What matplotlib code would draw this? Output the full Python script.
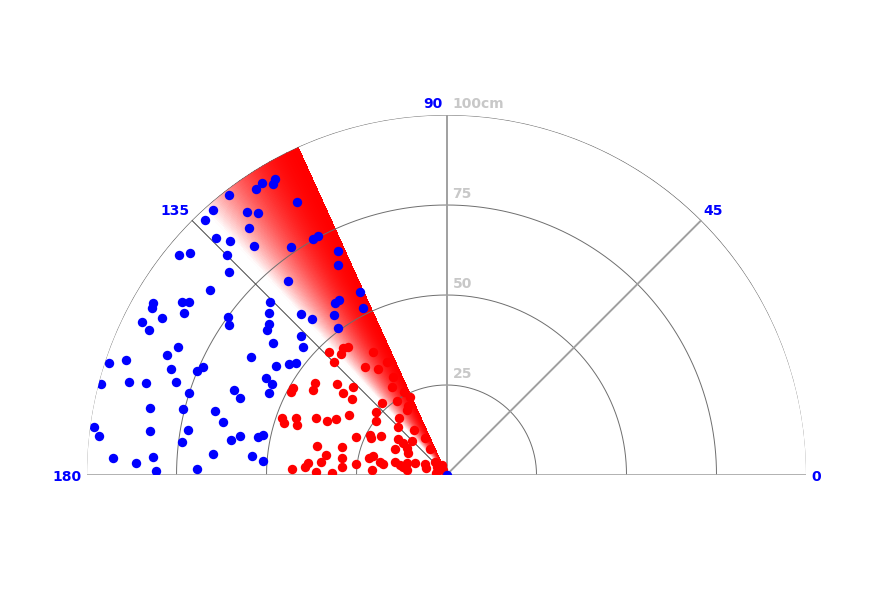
import numpy as np
import matplotlib
matplotlib.use("Agg")
import matplotlib.pyplot as plt
from matplotlib.colors import LinearSegmentedColormap

# radar sweep state
sweep_angle = 114.4      # current servo angle, degrees
trail_span = 18          # degrees of fading trail behind the sweep
max_range = 100          # cm

ring_values = [25, 50, 75, 100]
ring_labels = ["25", "50", "75", "100cm"]
angle_ticks = [0, 45, 90, 135, 180]

# echoes, position in cm relative to the sensor (x to the right, y forward)
far_x = [-60.4, -64.9, -67.1, -52.9, -51.3, -48.2, -47.6, -41.5, -55.4, -52.4,
         -54.9, -64.0, -60.1, -53.5, -43.2, -37.1, -35.7, -74.3, -71.3, -61.0,
         -60.4, -65.7, -44.0, -49.0, -81.5, -81.8, -73.5, -71.5, -30.1, -30.1,
         -24.0, -31.0, -29.9, -23.2, -31.3, -30.1, -72.9, -79.0, -84.6, -82.6,
         -60.7, -60.4, -49.3, -49.3, -49.9, -40.4, -37.4, -48.2, -40.4, -39.9,
         -74.6, -77.6, -93.8, -89.0, -76.5, -54.3, -69.3, -67.6, -47.4, -43.8,
         -41.8, -96.0, -88.2, -83.5, -75.1, -50.1, -48.5, -49.3, -71.5, -59.0,
         -57.4, -82.4, -73.2, -64.3, -62.1, -97.9, -96.5, -82.4, -71.8, -73.5,
         -59.9, -57.4, -52.4, -51.0, -92.6, -86.3, -81.5, -80.7, -64.9, -69.3,
         -54.0, -51.0]
far_y = [77.8, 73.6, 70.8, 79.4, 81.1, 80.8, 82.2, 75.8, 73.1, 72.8,
         68.6, 65.8, 65.0, 63.6, 63.3, 65.6, 66.4, 61.1, 61.7, 61.1,
         56.4, 51.4, 53.9, 48.1, 47.8, 46.4, 48.1, 48.1, 62.2, 58.3,
         50.8, 47.8, 48.6, 46.4, 44.4, 40.8, 45.0, 43.6, 42.5, 40.3,
         43.9, 41.7, 45.0, 41.9, 40.3, 44.7, 43.3, 36.7, 38.6, 35.6,
         35.6, 33.3, 31.1, 31.9, 29.4, 32.8, 28.9, 30.0, 30.3, 30.8,
         31.1, 25.3, 25.8, 25.6, 25.8, 26.9, 25.3, 22.8, 22.8, 23.6,
         21.4, 18.6, 18.3, 17.8, 14.7, 13.3, 10.8, 12.2, 12.5, 9.2,
         9.7, 10.8, 10.6, 11.1, 4.7, 3.3, 5.0, 1.1, 5.8, 1.7,
         5.3, 3.9]

near_x = [-20.4, -22.6, -19.0, -16.5, -14.9, -15.1, -13.8, -11.0, -10.7, -17.9,
          -19.6, -19.6, -13.2, -13.5, -9.0, -21.3, -21.0, -18.2, -13.5, -12.1,
          -11.0, -9.6, -10.7, -14.3, -6.0, -4.6, -21.5, -20.4, -18.5, -17.6,
          -20.7, -14.3, -12.9, -12.1, -11.0, -11.0, -8.8, -6.0, -5.7, -3.2,
          -2.6, -2.9, -1.3, -1.0, -32.6, -31.3, -29.3, -28.8, -27.4, -36.5,
          -37.1, -42.6, -43.2, -30.4, -28.8, -26.0, -26.3, -45.7, -45.1, -41.8,
          -41.5, -36.3, -33.2, -30.7, -27.1, -25.1, -36.0, -29.0, -33.5, -29.0,
          -29.0, -25.1, -34.9, -38.5, -39.3, -42.9, -36.3, -31.8, -11.8, -10.1]
near_y = [34.2, 30.0, 29.4, 31.4, 27.2, 24.4, 20.6, 18.1, 19.2, 20.0,
          17.5, 15.0, 15.8, 13.3, 12.5, 11.1, 10.3, 10.8, 10.0, 8.9,
          7.5, 9.4, 6.1, 7.2, 10.3, 7.2, 4.7, 5.3, 3.6, 3.1,
          1.4, 3.6, 2.8, 2.2, 3.3, 1.4, 3.3, 3.1, 1.9, 3.6,
          2.2, 0.6, 2.8, 1.4, 34.2, 31.4, 33.6, 35.3, 35.6, 25.6,
          23.6, 24.2, 23.1, 25.3, 22.8, 24.4, 21.1, 15.8, 14.4, 15.8,
          13.9, 15.8, 15.0, 15.6, 16.7, 10.6, 8.1, 7.8, 5.6, 4.7,
          2.2, 3.1, 3.6, 3.3, 2.2, 1.7, 0.8, 0.6, 23.1, 21.7]


def to_polar(xs, ys):
    xs = np.asarray(xs)
    ys = np.asarray(ys)
    return np.arctan2(ys, xs), np.hypot(xs, ys)


fig = plt.figure(figsize=(8.95, 5.95), dpi=100)
# half-disc is drawn at half the box size, so the box is made twice as big
ax = fig.add_axes([-0.3056, -0.1008, 1.609, 1.210], projection="polar")
ax.set_thetamin(0)
ax.set_thetamax(180)
ax.set_ylim(0, max_range)
ax.set_axis_off()

# fading trail behind the sweep line (opaque white->red, background is white)
trail = LinearSegmentedColormap.from_list("trail", ["#ffffff", "#ff0000"])
n_steps = 300
th_edges = np.radians(np.linspace(sweep_angle, sweep_angle + trail_span, n_steps + 1))
r_edges = np.array([0, max_range])
t = np.linspace(0, 1, n_steps)
shade = (1 - t ** 2)[None, :]
ax.pcolormesh(th_edges, r_edges, shade, cmap=trail, vmin=0, vmax=1,
              shading="flat", zorder=1, antialiased=False, linewidth=0,
              edgecolors="none")

# range rings
arc = np.radians(np.linspace(0, 180, 361))
for r in ring_values:
    ax.plot(arc, np.full_like(arc, r), color="#6e6e6e", lw=0.7, zorder=2)

# angle spokes
for a in angle_ticks:
    ang = np.radians(a)
    if a in (0, 180):
        ax.plot([ang, ang], [0, max_range], color="#aaaaaa", lw=2.0, zorder=2)
    elif a == 135:
        ax.plot([ang, ang], [0, max_range], color="#444444", lw=0.7, zorder=2)
    else:
        ax.plot([ang, ang], [0, max_range], color="#a0a0a0", lw=1.4, zorder=2)

# echoes
th_far, r_far = to_polar(far_x, far_y)
th_near, r_near = to_polar(near_x, near_y)
ax.scatter(th_far, r_far, s=46, color="#0000ff", linewidths=0, zorder=3)
ax.scatter(th_near, r_near, s=46, color="#ff0000", linewidths=0, zorder=3)
ax.scatter([0], [0], s=46, color="#0000ff", linewidths=0, zorder=4)  # sensor

# range labels
for r, lab in zip(ring_values, ring_labels):
    ax.annotate(lab, xy=(np.pi / 2, r), xytext=(6, 11), textcoords="offset pixels",
                ha="left", va="center", color="#c8c8c8", fontsize=10,
                fontweight="bold", family="DejaVu Sans")

# angle labels
label_offsets = {0: (5, -2, "left"), 45: (2, 9, "left"), 90: (-4, 11, "right"),
                 135: (-2, 9, "right"), 180: (-5, -2, "right")}
for a in angle_ticks:
    dx, dy, ha = label_offsets[a]
    ax.annotate(str(a), xy=(np.radians(a), max_range), xytext=(dx, dy),
                textcoords="offset pixels", ha=ha, va="center", color="#0000ff",
                fontsize=10, fontweight="bold", family="DejaVu Sans")

fig.savefig("out.png", dpi=100, facecolor="white")
